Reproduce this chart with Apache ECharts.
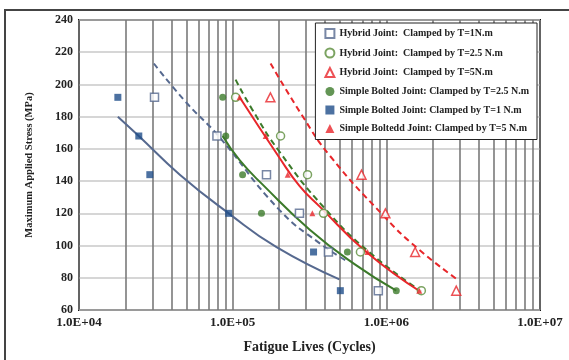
<!DOCTYPE html>
<html>
<head>
<meta charset="utf-8">
<script src="https://cdn.jsdelivr.net/npm/echarts@6/dist/echarts.min.js"></script>
<style>
  html, body { margin: 0; padding: 0; background: #fff; }
  #chart { width: 569px; height: 360px; }
</style>
</head>
<body>
<div id="chart"></div>
<script>
// stress levels of the tests (MPa)
const stressLevels = [192, 168, 144, 120, 96, 72]

// measured fatigue lives (cycles), one per stress level
const hybridT1Lives = [31000, 79000, 166000, 272000, 420000, 887000]
const hybridT25Lives = [104500, 205000, 307000, 390000, 678000, 1690000]
const hybridT5Lives = [176000, null, 689000, 986000, 1540000, 2850000]
const simpleT25Lives = [86100, 90200, 116000, 154000, 558000, 1161000]
const simpleT1Lives = [17900, 24500, 28900, 94200, 336000, 502000]
const simpleT5Lives = [111000, 164000, 228000, 330000, 754000, 1637000]

// trend lines, points
const simpleT1FitLives = [17900, 24500, 45300, 94200, 193000, 495000]
const simpleT1FitStress = [180, 168, 144, 120, 99, 79]
const hybridT1FitLives = [30700, 50200, 80000, 202000, 367000, 540000]
const hybridT1FitStress = [213, 188.5, 168.5, 122, 101.5, 91]
const simpleT25FitLives = [86100, 111000, 158000, 316000, 631000, 1161000]
const simpleT25FitStress = [168, 153, 137.5, 110, 88, 72]
const hybridT25FitLives = [104500, 133000, 199000, 398000, 794000, 1690000]
const hybridT25FitStress = [203, 185, 159, 123, 95, 71.5]
const simpleT5FitLives = [111000, 200000, 272000, 370000, 741000, 1690000]
const simpleT5FitStress = [192, 155, 137, 124, 96, 71]
const hybridT5FitLives = [176500, 282000, 427000, 970000, 1585000, 2890000]
const hybridT5FitStress = [213, 181, 156, 118, 98.5, 79]

// vertical grid lines between the decades
const minorLives = [
  2e4, 3e4, 4e4, 5e4, 6e4, 7e4, 8e4, 9e4,
  2e5, 3e5, 4e5, 5e5, 6e5, 7e5, 8e5, 9e5,
  2e6, 3e6, 4e6, 5e6, 6e6, 7e6, 8e6, 9e6,
]

const seriesNames = [
  'Hybrid Joint:  Clamped by T=1N.m',
  'Hybrid Joint:  Clamped by T=2.5 N.m',
  'Hybrid Joint:  Clamped by T=5N.m',
  'Simple Bolted Joint: Clamped by T=2.5 N.m',
  'Simple Bolted Joint: Clamped by T=1 N.m',
  'Simple Boltedd Joint: Clamped by T=5 N.m',
]

const font = 'Liberation Serif, Times New Roman, serif'
const blue = '#1f4e8a'
const blueGrey = '#56698f'
const green = '#3c7a2a'
const red = '#e8262a'

function pairs(xs, ys) {
  return xs.map((x, i) => [x, ys[i]]).filter((p) => p[0] != null)
}

function points(name, lives, symbol, size, itemStyle) {
  return {
    name: name,
    type: 'scatter',
    symbol: symbol,
    symbolSize: size,
    itemStyle: itemStyle,
    z: 5,
    data: pairs(lives, stressLevels),
  }
}

function fit(lives, stress, color, type) {
  return {
    type: 'line',
    smooth: true,
    showSymbol: false,
    silent: true,
    z: 4,
    lineStyle: { color: color, width: 2, type: type === 'dashed' ? [6, 4] : 'solid' },
    data: pairs(lives, stress),
  }
}

const option = {
  animation: false,
  backgroundColor: '#fff',
  grid: {
    left: 79,
    right: 29,
    top: 20,
    bottom: 50,
    show: true,
    borderColor: '#111',
    borderWidth: 2,
  },
  // outer frame of the figure, open at right and bottom
  graphic: [
    {
      type: 'rect',
      silent: true,
      shape: { x: 5, y: 10, width: 620, height: 370 },
      style: { fill: 'none', stroke: '#444', lineWidth: 2 },
    },
  ],
  legend: {
    orient: 'vertical',
    right: 32,
    top: 23,
    z: 20,
    backgroundColor: '#fff',
    borderColor: '#222',
    borderWidth: 1,
    padding: [5, 8, 6, 9],
    itemGap: 8.5,
    itemWidth: 9,
    itemHeight: 9,
    textStyle: { fontFamily: font, fontWeight: 'bold', fontSize: 10, color: '#222' },
    data: seriesNames,
  },
  xAxis: {
    type: 'log',
    logBase: 10,
    min: 1e4,
    max: 1e7,
    name: 'Fatigue Lives (Cycles)',
    nameLocation: 'middle',
    nameGap: 30,
    nameTextStyle: { fontFamily: font, fontWeight: 'bold', fontSize: 14, color: '#222' },
    axisLine: { show: false },
    axisTick: { show: false },
    axisLabel: {
      margin: 6,
      fontFamily: font,
      fontWeight: 'bold',
      fontSize: 13,
      color: '#222',
      formatter: (v) => '1.0E+' + String(Math.round(Math.log10(v))).padStart(2, '0'),
    },
    splitLine: { show: true, lineStyle: { color: '#7a7a7a', width: 1.6 } },
  },
  yAxis: {
    type: 'value',
    min: 60,
    max: 240,
    interval: 20,
    name: 'Maximum Applied Stress (MPa)',
    nameLocation: 'middle',
    nameGap: 44,
    nameTextStyle: { fontFamily: font, fontWeight: 'bold', fontSize: 10.5, color: '#222' },
    axisLine: { show: false },
    axisTick: { show: false },
    axisLabel: { margin: 6, fontFamily: font, fontWeight: 'bold', fontSize: 12, color: '#222' },
    splitLine: { show: true, lineStyle: { color: '#c9c9c9', width: 1.5 } },
  },
  series: [
    {
      type: 'line',
      data: [],
      silent: true,
      z: 1,
      markLine: {
        silent: true,
        symbol: 'none',
        z: 1,
        label: { show: false },
        lineStyle: { color: '#7a7a7a', width: 1.6, type: 'solid' },
        data: minorLives.map((v) => ({ xAxis: v })),
      },
    },
    fit(simpleT1FitLives, simpleT1FitStress, blueGrey, 'solid'),
    fit(hybridT1FitLives, hybridT1FitStress, blueGrey, 'dashed'),
    fit(simpleT25FitLives, simpleT25FitStress, green, 'solid'),
    fit(hybridT25FitLives, hybridT25FitStress, green, 'dashed'),
    fit(simpleT5FitLives, simpleT5FitStress, red, 'solid'),
    fit(hybridT5FitLives, hybridT5FitStress, red, 'dashed'),
    points(seriesNames[0], hybridT1Lives, 'rect', 8,
      { color: '#fff', borderColor: blueGrey, borderWidth: 1.5 }),
    points(seriesNames[1], hybridT25Lives, 'circle', 8,
      { color: '#fff', borderColor: '#5a8c3a', borderWidth: 1.5 }),
    points(seriesNames[2], hybridT5Lives, 'triangle', 9,
      { color: '#fff', borderColor: red, borderWidth: 1.5 }),
    points(seriesNames[3], simpleT25Lives, 'circle', 7, { color: green }),
    points(seriesNames[4], simpleT1Lives, 'rect', 7, { color: blue }),
    points(seriesNames[5], simpleT5Lives, 'triangle', 6, { color: red }),
  ],
}

const dom = document.getElementById('chart')
const chart = echarts.init(dom)
chart.setOption(option)
</script>
</body>
</html>
